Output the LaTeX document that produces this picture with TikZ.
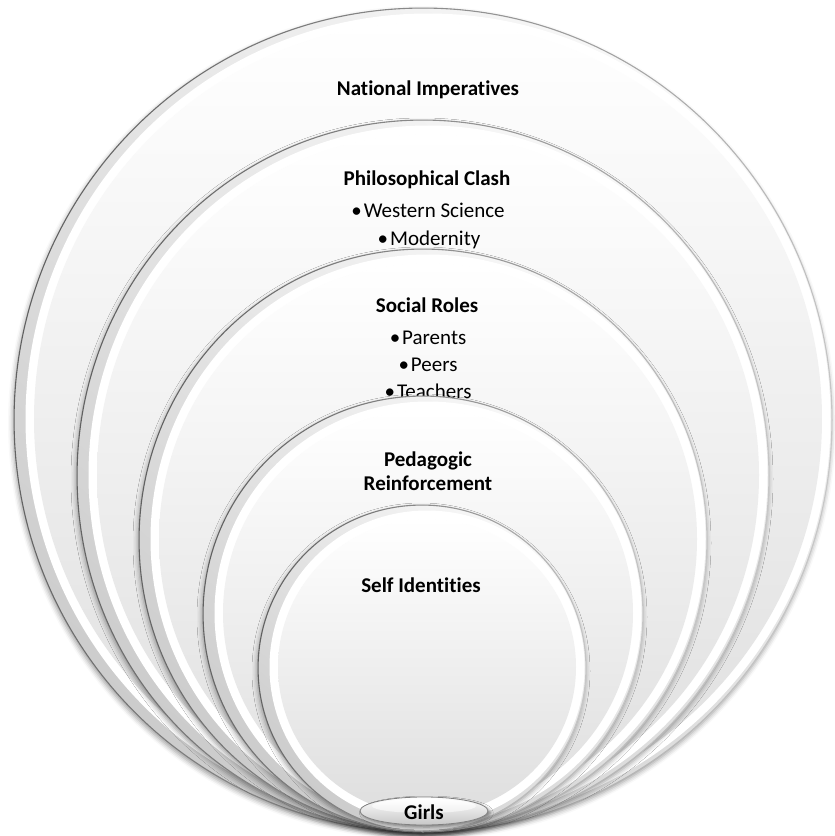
\documentclass[tikz,border=0pt]{standalone}
\usepackage{fontspec}
\setmainfont{Carlito}[Ligatures={TeX,NoCommon}]
\usetikzlibrary{shadows.blur}

% A bevelled disc: centre x, centre y, x radius, y radius
\newcommand\bevelDisc[4]{%
  \fill[black!20, blur shadow={shadow xshift=-1pt, shadow yshift=-3pt,
        shadow blur radius=5pt, shadow opacity=40}]
    (#1,#2) ellipse [x radius=#3, y radius=#4];
  \shade[rimshade] (#1,#2) ellipse [x radius=#3, y radius=#4];
  \draw[white, line width=9pt] (#1+5,#2-1) ellipse [x radius=#3-11, y radius=#4-11];
  \shade[facefill] (#1+5,#2-1) ellipse [x radius=#3-15, y radius=#4-15];
  % edge line, dark on the left fading out to the right
  \shade[rimline, even odd rule]
    (#1,#2) ellipse [x radius=#3+0.5, y radius=#4+0.5]
    (#1,#2) ellipse [x radius=#3-0.6, y radius=#4-0.6];
}

\begin{document}
\begin{tikzpicture}[x=1pt, y=-1pt,
  rimshade/.style={top color=black!3, bottom color=black!20, shading angle=-40},
  facefill/.style={top color=white, bottom color=black!13},
  rimline/.style={left color=black!62, right color=black!22, shading angle=80},
  lensline/.style={draw=black!50, line width=0.8pt},
  head/.style={font=\fontsize{21}{24}\selectfont\bfseries, anchor=base, inner sep=0pt, text=black},
  item/.style={font=\fontsize{21}{24}\selectfont, anchor=base, inner sep=0pt, text=black},
]
\useasboundingbox (0,0) rectangle (835,836);

% outermost ring
\bevelDisc{423}{420}{409}{412}
\node[head] (nat) at (428,95) {National Imperatives};

% second ring
\bevelDisc{423}{476}{346}{356}
\node[head] (phil) at (427,185) {Philosophical Clash};
\node[item] (west) at (428,217) {•\hspace{2pt}Western Science};
\node[item] (mod) at (429,245) {•\hspace{2pt}Modernity};

% third ring
\bevelDisc{423}{540}{284}{291}
\node[head] (soc) at (427,312) {Social Roles};
\node[item] (par) at (428,344) {•\hspace{2pt}Parents};
\node[item] (peer) at (428,371) {•\hspace{2pt}Peers};
\node[item] (teach) at (428,398) {•\hspace{2pt}Teachers};

% fourth ring
\bevelDisc{423}{614}{220}{218}
\node[head] (ped) at (428,466) {Pedagogic};
\node[head] (rein) at (428,490) {Reinforcement};

% innermost ring
\bevelDisc{422}{668}{164}{163}
\node[head] (self) at (421,592) {Self Identities};

% small lens at the common base
\fill[black!20, blur shadow={shadow yshift=-2pt, shadow blur radius=3pt, shadow opacity=40}]
  (424,811) ellipse [x radius=64, y radius=14];
\shade[top color=white, bottom color=black!22] (424,811) ellipse [x radius=64, y radius=14];
\shade[top color=white, bottom color=black!6] (424,806) ellipse [x radius=52, y radius=7];
\draw[lensline] (424,811) ellipse [x radius=64, y radius=14];
\node[head] (girls) at (424,819) {Girls};
\end{tikzpicture}
\end{document}
